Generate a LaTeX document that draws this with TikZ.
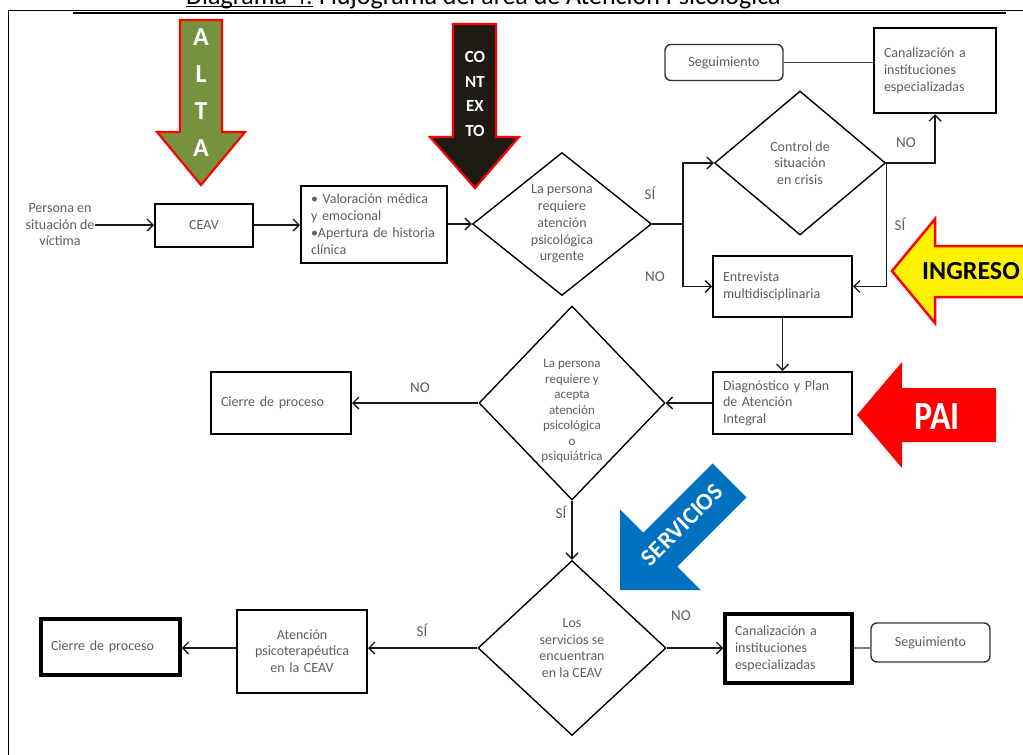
\documentclass[tikz,border=0pt]{standalone}
\usepackage{fontspec}
\usepackage{graphicx}
\setmainfont{Carlito}
\usetikzlibrary{shapes.geometric,arrows.meta,calc}
\definecolor{txt}{HTML}{5E5E5E}
\definecolor{olivegr}{HTML}{76923C}
\definecolor{ctxblack}{HTML}{1E1B14}
\definecolor{pblue}{HTML}{0070C0}
\begin{document}
\begin{tikzpicture}[x=1pt,y=-1pt,
 txtfont/.style={font=\fontsize{14}{16.5}\selectfont},
 box/.style={draw=black,line width=2pt,inner ysep=0pt,inner xsep=10pt,text=txt,txtfont},
 lbox/.style={box,align=left},
 cbox/.style={box,align=center},
 segbox/.style={draw=black!80,line width=1.4pt,rounded corners=6pt,inner sep=0pt,text=txt,txtfont,minimum width=118pt,minimum height=36pt},
 diam/.style={shape=diamond,draw=black,line width=1.4pt,inner sep=0pt,text=txt,align=center,txtfont},
 conn/.style={draw=black!90,line width=1.3pt},
 arr/.style={conn,-{Straight Barb[length=6pt,width=12pt]}},
 lbl/.style={text=txt,font=\fontsize{15}{15}\selectfont,inner sep=0pt},
]
\useasboundingbox (0,0) rectangle (1023,755);
\fill[white] (0,0) rectangle (1023,755);

% title (cut at top)
\node[anchor=base west,inner sep=0pt,font=\fontsize{26}{26}\selectfont] (t1) at (186,4) {Diagrama 4.};
\node[anchor=base west,inner sep=0pt,font=\fontsize{26}{26}\selectfont] (t2) at ([xshift=6pt]t1.base east) {Flujograma del área de Atención Psicológica};
\draw[line width=1.5pt] ([yshift=-2.5pt]t1.base west) -- ([yshift=-2.5pt]t1.base east);

% frame
\draw[line width=0.8pt] (8,760) -- (8,10.5) -- (1023,10.5);
\draw[line width=2pt] (73,12.5) -- (1006,12.5);

% ALTA arrow
\filldraw[fill=olivegr,draw=red,line width=2.2pt] (180,20) -- (222,20) -- (222,132) -- (245,132) -- (201,185) -- (157,132) -- (180,132) -- cycle;
\node[text=white,align=center,inner sep=0pt,font=\bfseries\fontsize{26}{37}\selectfont] (alta) at (201,92.5) {A\\L\\T\\A};

% CONTEXTO arrow
\filldraw[fill=ctxblack,draw=red,line width=2.2pt] (453,24) -- (496,24) -- (496,137) -- (519,137) -- (475,188) -- (430,137) -- (453,137) -- cycle;
\node[text=white,align=center,inner sep=0pt,font=\bfseries\fontsize{17}{24.5}\selectfont] (ctx) at (475,94) {CO\\NT\\EX\\TO};

% INGRESO arrow
\filldraw[fill=yellow,draw=red,line width=2.5pt] (892,271) -- (935,219) -- (935,246) -- (1035,246) -- (1035,297) -- (935,297) -- (935,323) -- cycle;
\node[inner sep=0pt,font=\bfseries\fontsize{26}{26}\selectfont] (ingr) at (971,271) {INGRESO};

% PAI arrow
\fill[red] (857,415) -- (902,362) -- (902,388) -- (996,388) -- (996,442) -- (902,442) -- (902,468) -- cycle;
\node[text=white,inner sep=0pt,font=\bfseries\fontsize{40}{40}\selectfont] (pai) at (937,417) {\scalebox{0.85}[1]{PAI}};

% SERVICIOS arrow
\begin{scope}[shift={(620,590)},rotate=225]
\fill[pblue] (0,0) -- (-57,57) -- (-57,24) -- (-155,24) -- (-155,-24) -- (-57,-24) -- (-57,-57) -- cycle;
\end{scope}
\node[text=white,inner sep=0pt,rotate=45,font=\bfseries\fontsize{24}{24}\selectfont] (serv) at (682,525) {SERVICIOS};

% flow nodes
\node[text=txt,txtfont,align=center,inner sep=0pt] (pers) at (60,225) {Persona en\\situación de\\víctima};
\node[cbox,minimum width=98pt,minimum height=43pt] (ceav) at (204,225) {CEAV};
\node[lbox,text width=126pt,minimum height=77pt,font=\fontsize{14}{17}\selectfont] (valor) at (374,224) {• Valoración médica\\y emocional\\•Apertura de historia\\clínica};
\node[diam,minimum width=179pt,minimum height=143pt,font=\fontsize{14}{16.75}\selectfont] (d1) at (562,224) {La persona\\requiere\\atención\\psicológica\\urgente};
\coordinate (j1) at (683,224);
\node[diam,minimum width=171pt,minimum height=144pt] (dc) at (800,163) {Control de\\situación\\en crisis};
\node[segbox] (seg1) at (724,62.5) {Seguimiento};
\node[lbox,line width=2.5pt,text width=102pt,minimum height=85pt,font=\fontsize{14}{17}\selectfont] (can1) at (935,70.5) {Canalización a\\instituciones\\especializadas};
\node[lbox,text width=119pt,minimum height=61pt] (entre) at (782.5,286.5) {Entrevista\\multidisciplinaria};
\node[lbox,text width=119pt,minimum height=62pt] (diag) at (782.5,403) {Diagnóstico y Plan\\de Atención\\Integral};
\node[lbox,text width=120pt,minimum height=62pt] (cie1) at (281,403) {Cierre de proceso};
\node[diam,minimum width=186pt,minimum height=194pt] (d2) at (572,403) {};
\node[text=txt,align=center,inner sep=0pt,font=\fontsize{13}{15.5}\selectfont] (d2t) at (572,411) {La persona\\requiere y\\acepta\\atención\\psicológica\\o\\psiquiátrica};
\node[diam,minimum width=188pt,minimum height=175pt] (d3) at (572,648) {Los\\servicios se\\encuentran\\en la CEAV};
\node[cbox,text width=110pt,minimum height=83pt] (atenc) at (302,651) {Atención\\psicoterapéutica\\en la CEAV};
\node[lbox,line width=3.5pt,text width=119pt,minimum height=56pt] (cie2) at (110.5,647) {Cierre de proceso};
\node[lbox,line width=3.5pt,text width=107pt,minimum height=69pt,font=\fontsize{14}{17}\selectfont] (can2) at (788.5,648.5) {Canalización a\\instituciones\\especializadas};
\node[segbox,minimum width=119pt,minimum height=39pt] (seg2) at (930.5,642.5) {Seguimiento};

% connectors
\draw[arr] (pers.east) -- (ceav.west);
\draw[arr] (ceav.east) -- (ceav.east -| valor.west);
\draw[arr] (valor.east) -- (valor.east -| d1.west);
\draw[conn] (d1.east) -- (j1);
\draw[arr] (j1) |- (dc.west);
\draw[arr] (j1) |- (entre.west);
\draw[arr] (dc.east) -| (can1.south);
\draw[arr] (dc.east) |- (entre.east);
\draw[conn,draw=black!75] (seg1.east) -- (seg1.east -| can1.west);
\draw[arr] (entre.south) -- (diag.north);
\draw[arr] (diag.west) -- (d2.east);
\draw[arr] (d2.west) -- (cie1.east);
\draw[arr] (d2.south) -- (d3.north);
\draw[arr] (d3.west) -- (d3.west -| atenc.east);
\draw[arr] (atenc.west |- d3.west) -- (d3.west -| cie2.east);
\draw[arr] (d3.east) -- (d3.east -| can2.west);
\draw[conn,draw=black!50] (d3.east -| can2.east) -- (d3.east -| seg2.west);

% labels
\node[lbl] (l1) at (650,193) {SÍ};
\node[lbl] (l2) at (655,277) {NO};
\node[lbl] (l3) at (906,143) {NO};
\node[lbl] (l4) at (900,224) {SÍ};
\node[lbl] (l5) at (420,388) {NO};
\node[lbl] (l6) at (561,512) {SÍ};
\node[lbl] (l7) at (422,630) {SÍ};
\node[lbl] (l8) at (681,616) {NO};
\end{tikzpicture}
\end{document}
